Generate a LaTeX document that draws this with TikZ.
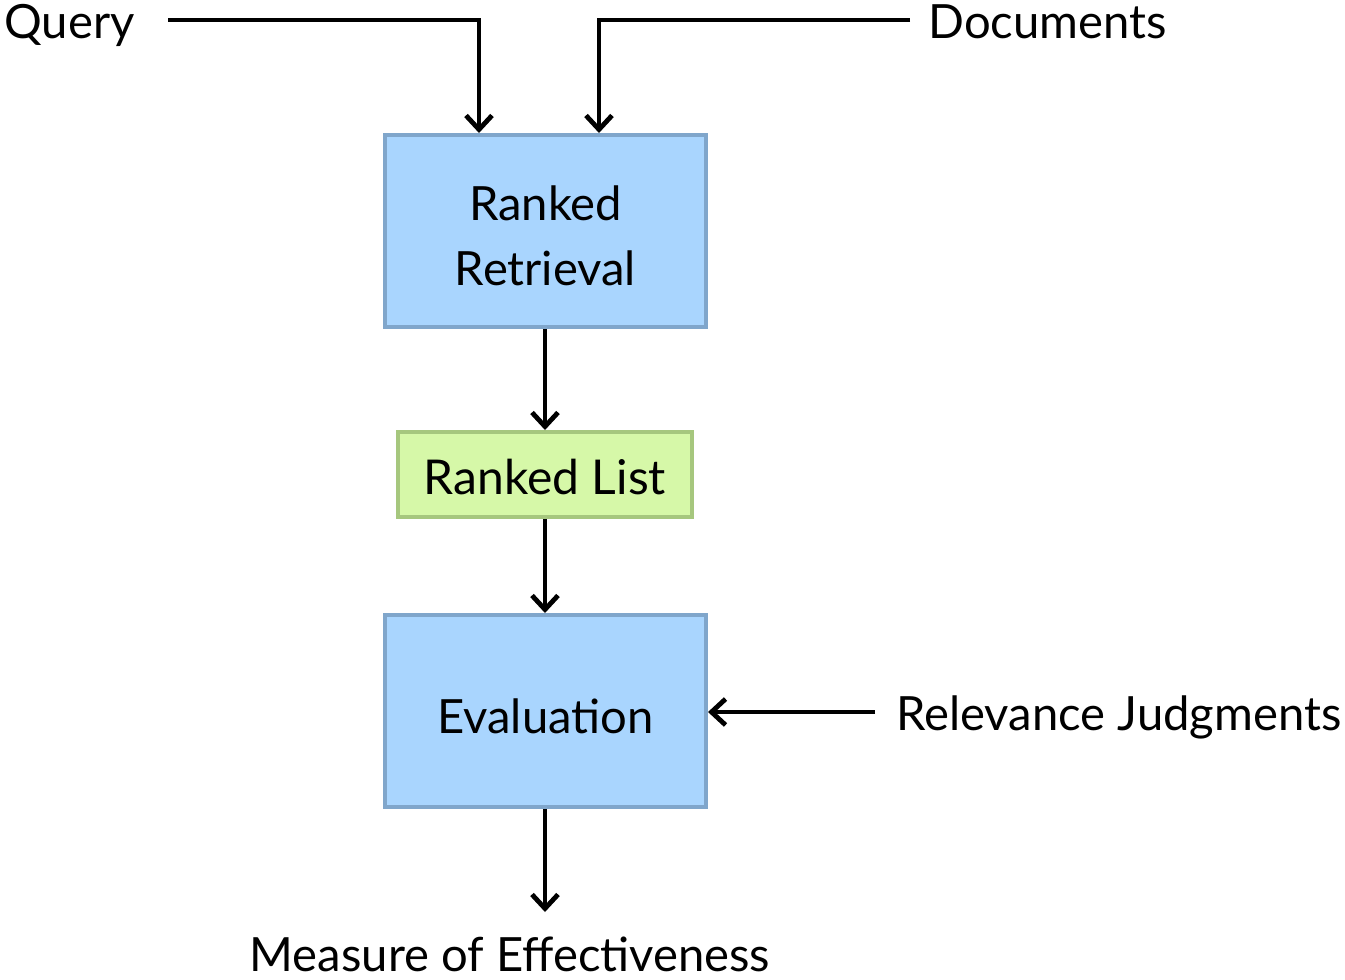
\documentclass[tikz,border=0pt]{standalone}
\usepackage{fontspec}
\setmainfont{Lato}
\usetikzlibrary{arrows.meta}
\definecolor{bluefill}{HTML}{A9D5FE}
\definecolor{blueline}{HTML}{80A6CB}
\definecolor{greenfill}{HTML}{D6F8A8}
\definecolor{greenline}{HTML}{A6C77E}
\newcommand{\lowered}[2]{\raisebox{-#1}[\height][\depth]{#2}}
\begin{document}
\begin{tikzpicture}[x=0.5pt,y=-0.5pt,
  lbl/.style={font=\fontsize{23.6}{28}\selectfont, inner sep=0pt},
  bluebox/.style={draw=blueline, fill=bluefill, line width=2pt, font=\fontsize{23.6}{32.5}\selectfont, inner sep=0pt},
  greenbox/.style={draw=greenline, fill=greenfill, line width=2pt, font=\fontsize{24}{28}\selectfont, inner sep=0pt},
  conn/.style={line width=2.4pt, -{Straight Barb[length=7pt,width=13pt,line width=2.4pt]}}]
\useasboundingbox (0,0) rectangle (1345,980);
\node[bluebox, minimum width=160.5pt, minimum height=96pt] (rr) at (545.5,231) {\lowered{4.5pt}{\begin{tabular}{@{}c@{}}Ranked\\Retrieval\end{tabular}}};
\node[greenbox, minimum width=147pt, minimum height=42.5pt] (rl) at (545,474.5) {\lowered{1.5pt}{Ranked List}};
\node[bluebox, minimum width=160.5pt, minimum height=96pt] (ev) at (545.5,711) {\lowered{2.5pt}{Evaluation}};
\node[lbl, anchor=west] (q) at (4,25) {Query};
\node[lbl, anchor=west] (d) at (928,22) {Documents};
\node[lbl, anchor=west] (rj) at (896,717) {Relevance Judgments};
\node[lbl] (m) at (510,954) {Measure of Effectiveness};
\coordinate (qs) at (168,20);
\coordinate (ds) at (910,20);
\coordinate (rjs) at (875,712);
\coordinate (ms) at (545,912);
\draw[conn] (qs) -| (rr.north -| 479,0);
\draw[conn] (ds) -| (rr.north -| 599,0);
\draw[conn] (rr.south -| 545,0) -- (rl.north -| 545,0);
\draw[conn] (rl.south -| 545,0) -- (ev.north -| 545,0);
\draw[conn] (rjs) -- (ev.east |- rjs);
\draw[conn] (ev.south -| 545,0) -- (ms);
\end{tikzpicture}
\end{document}
